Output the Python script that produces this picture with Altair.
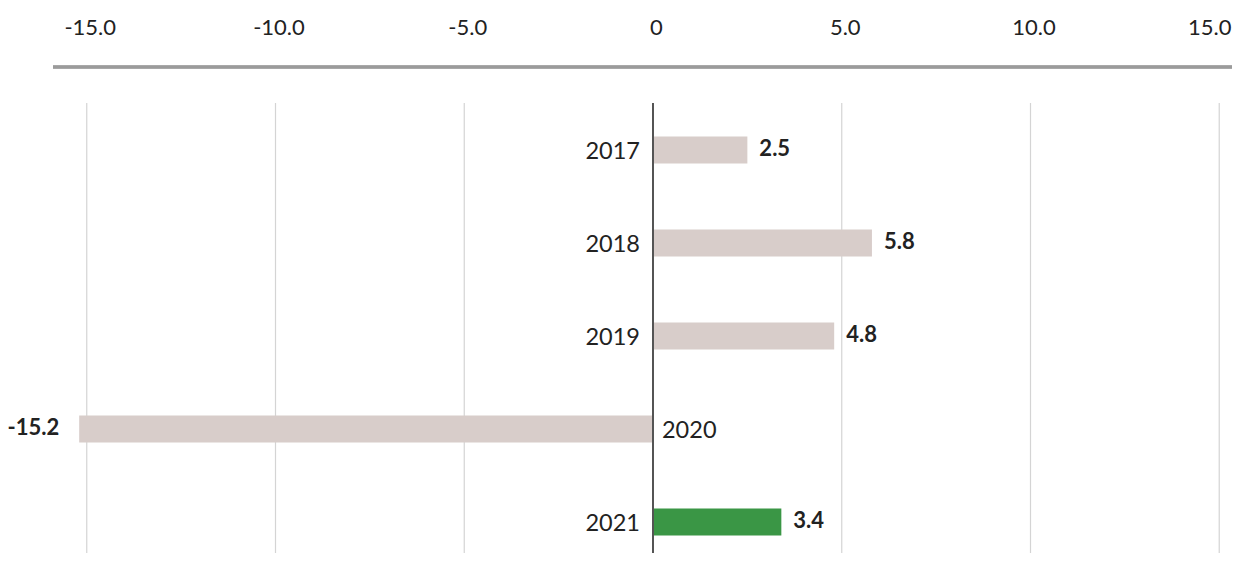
import altair as alt
import pandas as pd

years = ["2017", "2018", "2019", "2020", "2021"]
values = [2.5, 5.8, 4.8, -15.2, 3.4]
highlight = ["no", "no", "no", "no", "yes"]
tick_values = [-15, -10, -5, 0, 5, 10, 15]

df = pd.DataFrame({"year": years, "value": values, "hl": highlight})
ticks_df = pd.DataFrame({"t": tick_values})

FONT = "Lato"
W, H = 1224, 505
xscale = alt.Scale(domain=[-17.086, 15.338], nice=False, zero=False)
yscale = alt.Scale(domain=years, range=[55.5, 520.5])

xaxis = alt.Axis(
    orient="top", values=tick_values, grid=False, domain=False, ticks=False,
    tickSize=0, labelPadding=21, labelBaseline="middle",
    labelFont=FONT, labelFontSize=22, labelColor="#222222", title=None,
    labelOffset={"condition": {"test": "datum.value == 15", "value": -10}, "value": 3},
    labelExpr="datum.value == 0 ? '0' : (datum.value < 0 ? '-' : '') + format(abs(datum.value), '.1f')",
)

grid = alt.Chart(ticks_df).mark_rule(color="#d4d4d4", strokeWidth=1.2).encode(
    x=alt.X("t:Q", scale=xscale, axis=xaxis),
    y=alt.value(55),
    y2=alt.value(H),
)

topline = alt.Chart(ticks_df).mark_rule(color="#9b9b9b", strokeWidth=2.5).encode(
    x=alt.value(45), x2=alt.value(W), y=alt.value(19)
)

bars = alt.Chart(df).mark_bar(size=27).encode(
    x=alt.X("value:Q", scale=xscale, axis=xaxis),
    x2=alt.datum(0),
    y=alt.Y("year:N", scale=yscale, axis=None),
    color=alt.Color("hl:N", scale=alt.Scale(domain=["no", "yes"], range=["#d8cdca", "#3a9645"]), legend=None),
)

zero = alt.Chart(ticks_df).mark_rule(color="#555555", strokeWidth=1).encode(
    x=alt.datum(0), y=alt.value(55), y2=alt.value(H)
)

base = alt.Chart(df).transform_calculate(
    label="(datum.value < 0 ? '-' : '') + format(abs(datum.value), '.1f')"
)

pos = base.transform_filter("datum.value >= 0")
neg = base.transform_filter("datum.value < 0")

year_pos = pos.mark_text(align="right", baseline="middle", dx=-13, dy=2, font=FONT, fontSize=23.5, color="#222222").encode(
    x=alt.datum(0), y=alt.Y("year:N", scale=yscale), text="year:N"
)
year_neg = neg.mark_text(align="left", baseline="middle", dx=9, dy=2, font=FONT, fontSize=23.5, color="#222222").encode(
    x=alt.datum(0), y=alt.Y("year:N", scale=yscale), text="year:N"
)
val_pos = pos.mark_text(align="left", baseline="middle", dx=12, dy=-1, font=FONT, fontSize=22, fontWeight="bold", color="#222222").encode(
    x=alt.X("value:Q", scale=xscale), y=alt.Y("year:N", scale=yscale), text="label:N"
)
val_neg = neg.mark_text(align="right", baseline="middle", dx=-20, dy=-1, font=FONT, fontSize=22, fontWeight="bold", color="#222222").encode(
    x=alt.X("value:Q", scale=xscale), y=alt.Y("year:N", scale=yscale), text="label:N"
)

chart = alt.layer(grid, topline, bars, zero, year_pos, year_neg, val_pos, val_neg).properties(
    width=W, height=H,
    autosize=alt.AutoSizeParams(type="none"),
    padding={"left": 0, "right": 0, "top": 40, "bottom": 0},
).configure_view(stroke=None)

chart.save("out.html", embed_options={"renderer": "svg", "actions": False})
